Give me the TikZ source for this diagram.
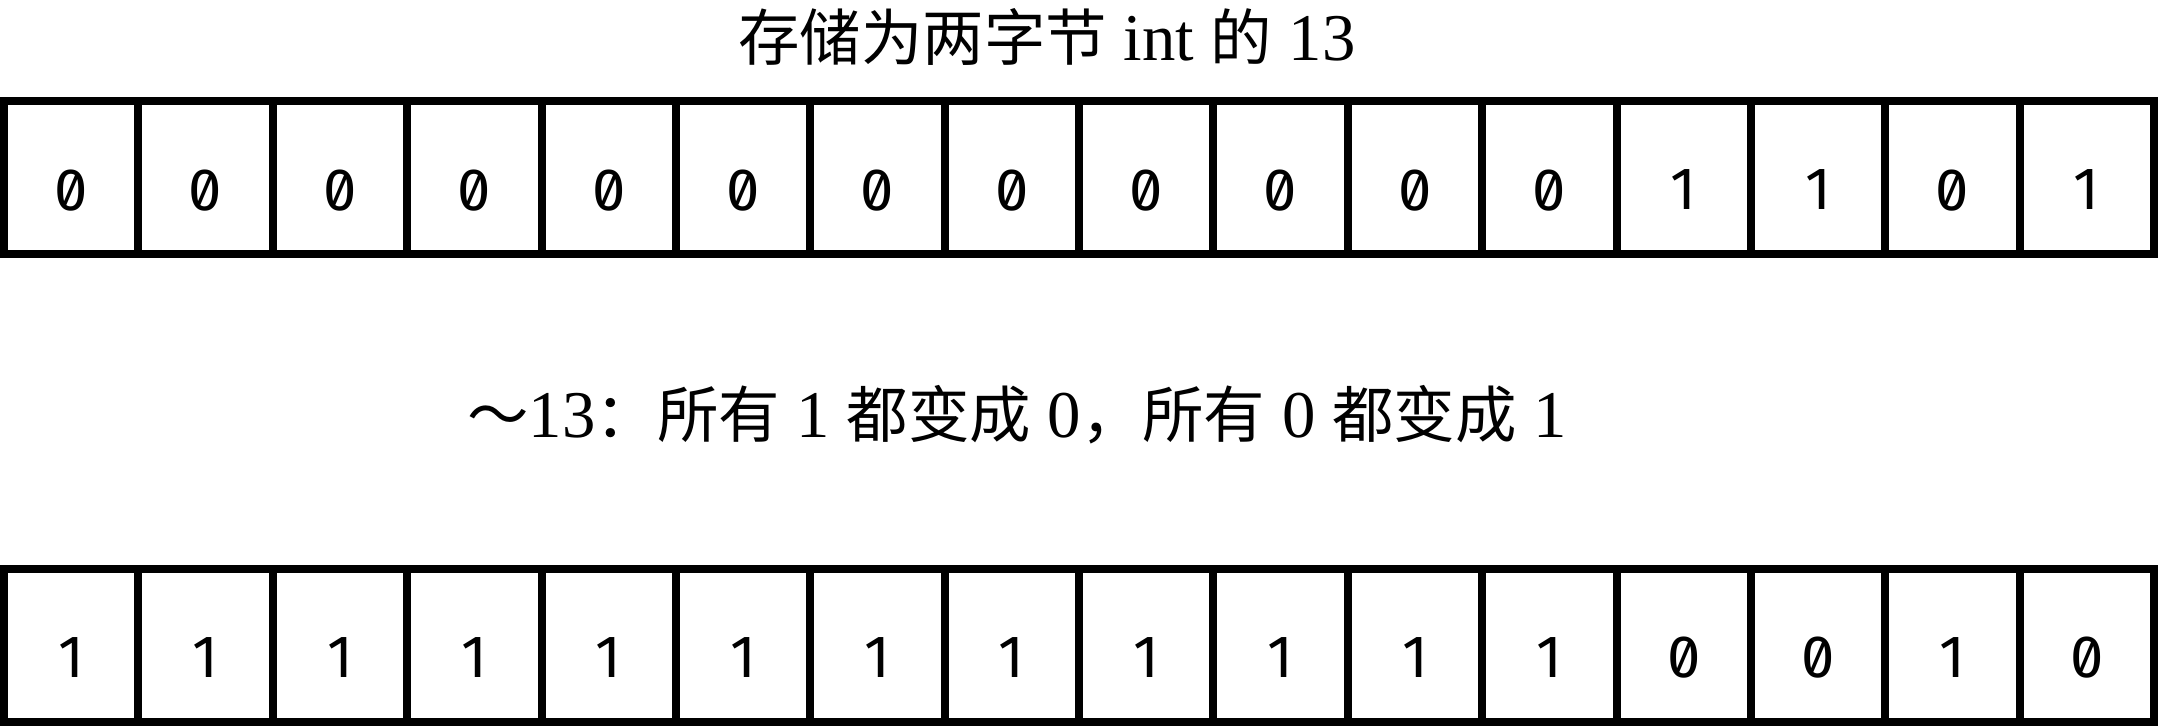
\documentclass[tikz,border=0pt]{standalone}
\usepackage{fontspec}
\setmainfont{Liberation Serif}
\newfontfamily\cjk[Scale=0.92]{Noto Sans CJK SC}
\newfontfamily\bitfont[RawFeature=+zero]{Fira Sans}
\usetikzlibrary{positioning}

\begin{document}
\begin{tikzpicture}[
    bitbox/.style={rectangle, draw=black, line width=0.8mm, minimum width=1.34375cm, minimum height=1.53cm, inner sep=0pt, outer sep=0pt, font=\fontsize{17}{20}\selectfont\bitfont, text depth=0pt},
    caption/.style={font=\fontsize{19}{23}\selectfont, inner sep=0pt, align=center}
  ]
    \useasboundingbox (0,0) rectangle (21.58,7.26);

    % Top row: 13 as a two-byte int
    \node[caption] (title) at (10.47,6.89) {{\cjk 存储为两字节} int {\cjk 的} 13};
    \foreach \b [count=\i] in {0,0,0,0,0,0,0,0,0,0,0,0,1,1,0,1}
      \node[bitbox] (t\i) at ({0.04+(\i-0.5)*1.34375},5.485) {\raisebox{-0.25cm}{\b}};

    % Middle caption
    \node[caption] (note) at (10.17,3.11) {{\cjk ～}13{\cjk ：所有} 1 {\cjk 都变成} 0{\cjk ，所有} 0 {\cjk 都变成} 1};

    % Bottom row: ~13
    \foreach \b [count=\i] in {1,1,1,1,1,1,1,1,1,1,1,1,0,0,1,0}
      \node[bitbox] (b\i) at ({0.04+(\i-0.5)*1.34375},0.81) {\raisebox{-0.25cm}{\b}};
  \end{tikzpicture}
\end{document}
